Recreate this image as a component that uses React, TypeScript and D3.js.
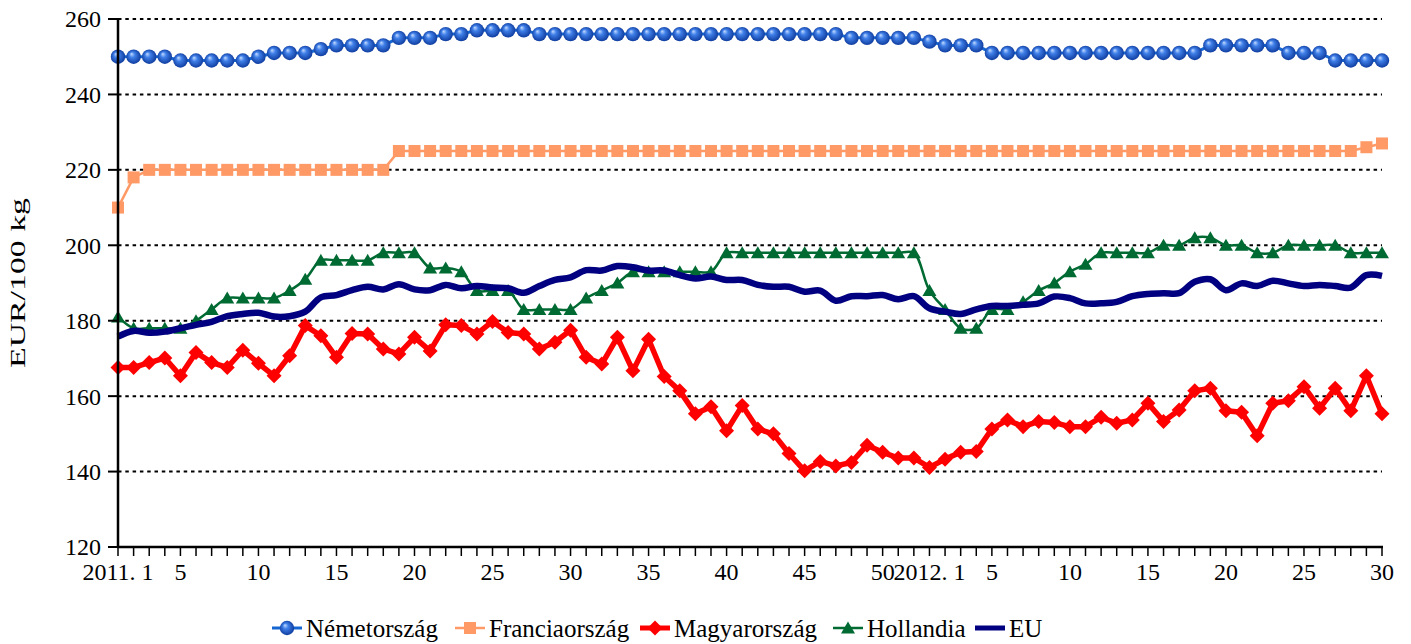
import React from "react";
import * as d3 from "d3";

const categories: string[] = [
  ...d3.range(1, 53).map((w) => `2011-${w}`),
  ...d3.range(1, 31).map((w) => `2012-${w}`),
];

const tickCategories = [
  "2011-1", "2011-5", "2011-10", "2011-15", "2011-20", "2011-25", "2011-30", "2011-35", "2011-40", "2011-45", "2011-50",
  "2012-1", "2012-5", "2012-10", "2012-15", "2012-20", "2012-25", "2012-30",
];
const tickLabels = [
  "2011. 1", "5", "10", "15", "20", "25", "30", "35", "40", "45", "50",
  "2012. 1", "5", "10", "15", "20", "25", "30",
];

const yTicks = [120, 140, 160, 180, 200, 220, 240, 260];

const nemet = [
  250, 250, 250, 250, 249, 249, 249, 249, 249, 250,
  251, 251, 251, 252, 253, 253, 253, 253, 255, 255,
  255, 256, 256, 257, 257, 257, 257, 256, 256, 256,
  256, 256, 256, 256, 256, 256, 256, 256, 256, 256,
  256, 256, 256, 256, 256, 256, 256, 255, 255, 255,
  255, 255, 254, 253, 253, 253, 251, 251, 251, 251,
  251, 251, 251, 251, 251, 251, 251, 251, 251, 251,
  253, 253, 253, 253, 253, 251, 251, 251, 249, 249,
  249, 249,
];

const franc = [
  210, 218, 220, 220, 220, 220, 220, 220, 220, 220,
  220, 220, 220, 220, 220, 220, 220, 220, 225, 225,
  225, 225, 225, 225, 225, 225, 225, 225, 225, 225,
  225, 225, 225, 225, 225, 225, 225, 225, 225, 225,
  225, 225, 225, 225, 225, 225, 225, 225, 225, 225,
  225, 225, 225, 225, 225, 225, 225, 225, 225, 225,
  225, 225, 225, 225, 225, 225, 225, 225, 225, 225,
  225, 225, 225, 225, 225, 225, 225, 225, 225, 225,
  226, 227,
];

const magyar = [
  167.6, 167.6, 168.9, 170.1, 165.4, 171.6, 168.9, 167.6, 172.2, 168.7,
  165.4, 170.7, 178.7, 176.0, 170.3, 176.6, 176.5, 172.5, 171.2, 175.6,
  172.0, 178.9, 178.7, 176.5, 179.8, 176.9, 176.5, 172.5, 174.3, 177.5,
  170.3, 168.5, 175.6, 166.7, 175.1, 165.2, 161.4, 155.3, 157.2, 150.8,
  157.5, 151.3, 150.0, 144.8, 140.2, 142.7, 141.5, 142.4, 147.0, 145.1,
  143.6, 143.6, 141.1, 143.3, 145.1, 145.3, 151.3, 153.7, 151.9, 153.3,
  153.0, 151.9, 151.9, 154.4, 152.8, 153.7, 158.1, 153.3, 156.3, 161.4,
  162.1, 156.1, 155.7, 149.5, 158.1, 158.8, 162.5, 156.8, 162.1, 156.1,
  165.4, 155.3,
];

const holland = [
  181, 178, 178, 178, 178, 180, 183, 186, 186, 186,
  186, 188, 191, 196, 196, 196, 196, 198, 198, 198,
  194, 194, 193, 188, 188, 188, 183, 183, 183, 183,
  186, 188, 190, 193, 193, 193, 193, 193, 193, 198,
  198, 198, 198, 198, 198, 198, 198, 198, 198, 198,
  198, 198, 188, 183, 178, 178, 183, 183, 185, 188,
  190, 193, 195, 198, 198, 198, 198, 200, 200, 202,
  202, 200, 200, 198, 198, 200, 200, 200, 200, 198,
  198, 198,
];

const eu = [
  175.8, 177.3, 176.8, 177.1, 178.0, 178.9, 179.7, 181.2, 181.8, 182.1,
  181.1, 181.2, 182.4, 186.2, 186.8, 188.1, 189.0, 188.3, 189.7, 188.3,
  188.1, 189.5, 188.6, 189.2, 188.8, 188.6, 187.4, 189.2, 190.8, 191.5,
  193.4, 193.3, 194.5, 194.2, 193.3, 193.3, 192.1, 191.2, 191.7, 190.8,
  190.8, 189.5, 189.0, 189.0, 187.7, 188.0, 185.3, 186.5, 186.5, 186.8,
  185.7, 186.5, 183.3, 182.4, 181.8, 183.0, 183.9, 183.9, 184.2, 184.6,
  186.4, 186.0, 184.6, 184.6, 185.0, 186.5, 187.1, 187.3, 187.3, 190.3,
  191.0, 188.1, 189.9, 189.2, 190.6, 189.9, 189.2, 189.5, 189.2, 188.8,
  192.1, 191.9,
];

const seriesNames = ["Németország", "Franciaország", "Magyarország", "Hollandia", "EU"];

const W = 1411;
const H = 644;
const left = 118;
const right = 1382;
const top = 19;
const bottom = 547;
const FONT = "Liberation Serif, Times New Roman, DejaVu Serif, serif";

const x = d3.scalePoint<string>().domain(categories).range([left, right]);
const y = d3.scaleLinear().domain([120, 260]).range([bottom, top]);

type Marker = "circle" | "square" | "diamond" | "triangle" | "none";

function MarkerShape({ kind, cx, cy, fill }: { kind: Marker; cx: number; cy: number; fill: string }) {
  if (kind === "circle") return <circle cx={cx} cy={cy} r={7.2} fill="url(#sphere)" />;
  if (kind === "square") return <rect x={cx - 6} y={cy - 6} width={12} height={12} fill={fill} />;
  if (kind === "diamond")
    return <path d={`M${cx},${cy - 7.5}L${cx + 7.5},${cy}L${cx},${cy + 7.5}L${cx - 7.5},${cy}Z`} fill={fill} />;
  if (kind === "triangle")
    return <path d={`M${cx},${cy - 6.5}L${cx + 7},${cy + 5.5}L${cx - 7},${cy + 5.5}Z`} fill={fill} />;
  return null;
}

const seriesDefs = [
  { name: seriesNames[0], values: nemet, color: "#1466d2", width: 3, marker: "circle" as Marker, curve: d3.curveLinear },
  { name: seriesNames[1], values: franc, color: "#ff9966", width: 2.5, marker: "square" as Marker, curve: d3.curveLinear },
  { name: seriesNames[2], values: magyar, color: "#ff0000", width: 5.5, marker: "diamond" as Marker, curve: d3.curveLinear },
  { name: seriesNames[3], values: holland, color: "#006a33", width: 2.5, marker: "triangle" as Marker, curve: d3.curveCatmullRom.alpha(0.5) },
  { name: seriesNames[4], values: eu, color: "#000080", width: 6.5, marker: "none" as Marker, curve: d3.curveCatmullRom.alpha(0.5) },
];

const legendX = [272, 455, 640, 833, 975];
const legendY = 628;
const textStyle = { fontFamily: FONT };

export default function App() {
  return (
    <svg width={W} height={H} style={{ position: "absolute", left: 0, top: 0, background: "#fff" }}>
      <defs>
        <radialGradient id="sphere" cx="50%" cy="50%" r="55%" fx="35%" fy="30%">
          <stop offset="0%" stopColor="#c4dbff" />
          <stop offset="35%" stopColor="#3f7fe8" />
          <stop offset="100%" stopColor="#0a3597" />
        </radialGradient>
      </defs>
      <rect width={W} height={H} fill="#fff" />

      {yTicks.slice(1).map((t) => (
        <line key={t} x1={left} x2={right} y1={y(t)} y2={y(t)} stroke="#000" strokeWidth={2} strokeDasharray="3.5 3.8" />
      ))}

      {seriesDefs.map((s) => {
        const line = d3
          .line<number>()
          .x((_, i) => x(categories[i]) as number)
          .y((d) => y(d))
          .curve(s.curve);
        return (
          <g key={s.name}>
            <path d={line(s.values) || ""} fill="none" stroke={s.color} strokeWidth={s.width} strokeLinejoin="round" />
            {s.marker !== "none" &&
              s.values.map((v, i) => (
                <MarkerShape key={i} kind={s.marker} cx={x(categories[i]) as number} cy={y(v)} fill={s.color} />
              ))}
          </g>
        );
      })}

      <line x1={left} x2={left} y1={top} y2={bottom + 1} stroke="#000" strokeWidth={2.5} />
      <line x1={left - 1} x2={right + 1} y1={bottom} y2={bottom} stroke="#000" strokeWidth={2.5} />
      {yTicks.map((t) => (
        <g key={t}>
          <line x1={left - 10} x2={left} y1={y(t)} y2={y(t)} stroke="#000" strokeWidth={2} />
          <text x={left - 17} y={y(t)} dy="0.35em" textAnchor="end" fontSize={24} fill="#000" style={textStyle}>
            {t}
          </text>
        </g>
      ))}
      {categories.map((c) => (
        <line key={c} x1={x(c)} x2={x(c)} y1={bottom} y2={bottom + 9} stroke="#000" strokeWidth={1.5} />
      ))}
      {tickCategories.map((c, i) => (
        <text key={c} x={x(c)} y={580} textAnchor="middle" fontSize={24} fill="#000" style={textStyle}>
          {tickLabels[i]}
        </text>
      ))}

      <text
        transform={`translate(25,${(top + bottom) / 2}) rotate(-90)`}
        textAnchor="middle"
        fontSize={20}
        fill="#000"
        textLength={170}
        lengthAdjust="spacingAndGlyphs"
        style={textStyle}
      >
        EUR/100 kg
      </text>

      {seriesDefs.map((s, i) => {
        const lx = legendX[i];
        return (
          <g key={s.name}>
            <line x1={lx} x2={lx + 30} y1={legendY} y2={legendY} stroke={s.color} strokeWidth={Math.min(s.width, 5)} />
            <MarkerShape kind={s.marker} cx={lx + 15} cy={legendY} fill={s.color} />
            <text x={lx + 34} y={legendY} dy="0.35em" fontSize={25} fill="#000" style={textStyle}>
              {s.name}
            </text>
          </g>
        );
      })}
    </svg>
  );
}
